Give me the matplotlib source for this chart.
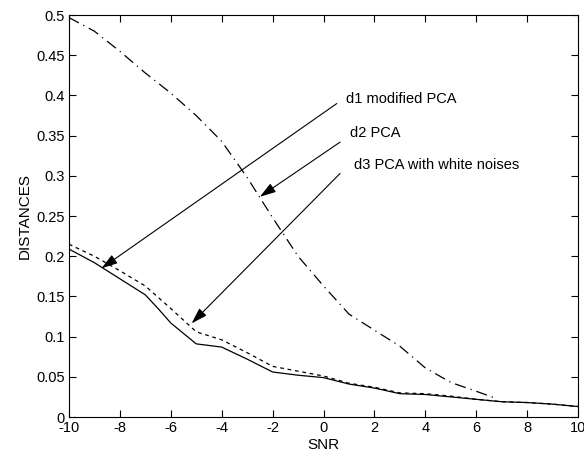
import matplotlib
matplotlib.use("Agg")
import matplotlib.pyplot as plt
import numpy as np

plt.rcParams['font.family'] = ['Liberation Sans', 'DejaVu Sans']
plt.rcParams['axes.unicode_minus'] = False

# d1 modified PCA (solid)
snr_d1 = [-10, -9, -8, -7, -6.5, -6, -5, -4, -3, -2, -1, 0, 1, 2, 3, 4, 5, 6, 7, 8, 9, 10]
d1 = [0.209, 0.192, 0.172, 0.152, 0.135, 0.117, 0.091, 0.087, 0.072, 0.056, 0.052, 0.049,
      0.041, 0.036, 0.029, 0.028, 0.025, 0.022, 0.019, 0.018, 0.016, 0.013]

# d3 PCA with white noises (dashed)
snr_d3 = [-10, -9, -8, -7, -6, -5, -4, -3, -2, -1, 0, 1, 2, 3, 4, 5, 6, 7, 8, 9, 10]
d3 = [0.215, 0.200, 0.182, 0.163, 0.135, 0.106, 0.096, 0.080, 0.063, 0.057, 0.051,
      0.042, 0.037, 0.030, 0.029, 0.026, 0.022, 0.019, 0.018, 0.016, 0.013]

# d2 PCA (dash-dot)
snr_d2 = [-10, -9, -8, -7, -6, -5, -4, -3, -2, -1, 0, 1, 2, 3, 4, 5, 6, 6.7]
d2 = [0.497, 0.480, 0.455, 0.428, 0.403, 0.375, 0.343, 0.298, 0.248, 0.200, 0.163,
      0.128, 0.108, 0.088, 0.061, 0.043, 0.032, 0.024]

labels = ["d1 modified PCA", "d2 PCA", "d3 PCA with white noises"]
label_xy = [(0.9, 0.3955), (1.05, 0.353), (1.2, 0.313)]
tail_xy = [(0.52, 0.390), (0.65, 0.342), (0.65, 0.303)]
tip_xy = [(-8.72, 0.185), (-2.5, 0.274), (-5.18, 0.1165)]

fig = plt.figure(figsize=(5.84, 4.58), dpi=100)
ax = fig.add_axes([0.118, 0.0895, 0.872, 0.8775])

ax.plot(snr_d1, d1, color='black', lw=0.9, linestyle='-')
ax.plot(snr_d3, d3, color='black', lw=0.9, linestyle=(0, (3, 3)))
ax.plot(snr_d2, d2, color='black', lw=0.9, linestyle=(0, (9, 4, 1, 4)))

for lab, lxy, txy, pxy in zip(labels, label_xy, tail_xy, tip_xy):
    ax.annotate('', xy=pxy, xytext=txy,
                arrowprops=dict(arrowstyle='-|>,head_length=0.7,head_width=0.22',
                                color='black', lw=0.8,
                                mutation_scale=14, shrinkA=0, shrinkB=0))
    ax.text(lxy[0], lxy[1], lab, fontsize=10.5, va='center', ha='left')

ax.set_xlim(-10, 10)
ax.set_ylim(0, 0.5)
ax.set_xticks(np.arange(-10, 11, 2))
ax.set_yticks(np.arange(0, 0.51, 0.05))
ax.set_yticklabels(['0', '0.05', '0.1', '0.15', '0.2', '0.25', '0.3', '0.35', '0.4', '0.45', '0.5'])
ax.tick_params(direction='in', top=True, right=True, labelsize=10.5, length=5, width=0.8, pad=3)
for s in ax.spines.values():
    s.set_linewidth(0.8)
ax.set_xlabel('SNR', fontsize=11, labelpad=2)
ax.set_ylabel('DISTANCES', fontsize=11, labelpad=3)

fig.savefig('out.png', dpi=100)
